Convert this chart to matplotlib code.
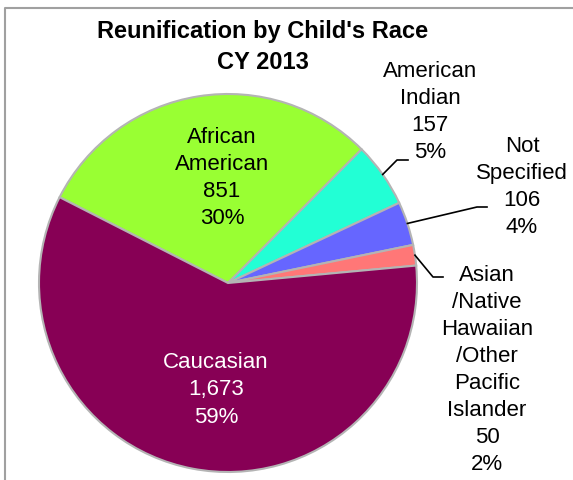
import numpy as np
import matplotlib.pyplot as plt

plt.rcParams['font.family'] = ['Liberation Sans', 'DejaVu Sans']

races = ["African\nAmerican", "American\nIndian", "Not\nSpecified",
         "Asian\n/Native\nHawaiian\n/Other\nPacific\nIslander", "Caucasian"]
counts = [851, 157, 106, 50, 1673]
pcts = ["30%", "5%", "4%", "2%", "59%"]
colours = ["#99ff33", "#22ffd5", "#6666ff", "#ff7777", "#870055"]

W, H = 573, 480
fig = plt.figure(figsize=(W / 100, H / 100), dpi=100)
ax = fig.add_axes([0, 0, 1, 1])

cx, cy, rad = 228, H - 283, 189
wedges, _ = ax.pie(counts, colors=colours, startangle=153, counterclock=False,
                   center=(cx, cy), radius=rad, frame=True,
                   wedgeprops=dict(edgecolor="#b4b4b4", linewidth=1.5))
ax.set_xlim(0, W)
ax.set_ylim(0, H)
ax.set_aspect("equal")
ax.axis("off")

# frame (only top and left visible)
ax.plot([5, 5, W], [0, H - 8, H - 8], color="#a0a0a0", lw=1.5, clip_on=False)

ax.text(263, H - 47, "Reunification by Child's Race\nCY 2013", ha="center", va="center",
        fontsize=17, fontweight="bold", linespacing=1.45)


def lab(i):
    return f"{races[i]}\n{counts[i]:,}\n{pcts[i]}"


fs, ls = 16, 1.38

# inside labels
ax.text(222, H - 178, lab(0), ha="center", va="center", fontsize=fs, linespacing=ls)
ax.text(216, H - 390, lab(4), ha="center", va="center", fontsize=fs, linespacing=ls,
        color="white")

# outside labels with leader lines: (text x, text y, elbow x, elbow y, end x)
outside = {1: (430, 112, 397, 160, 408),
           2: (522, 187, 477, 207, 487),
           3: (487, 370, 433, 277, 443)}
for i, (tx, ty, ex, ey, hx) in outside.items():
    w = wedges[i]
    mid = np.deg2rad((w.theta1 + w.theta2) / 2)
    x0 = cx + rad * np.cos(mid)
    y0 = cy + rad * np.sin(mid)
    ax.plot([x0, ex, hx], [y0, H - ey, H - ey], color="black", lw=1.2)
    ax.text(tx, H - ty, lab(i), ha="center", va="center", fontsize=fs, linespacing=ls)

fig.savefig("out.png", dpi=100, facecolor="white")
